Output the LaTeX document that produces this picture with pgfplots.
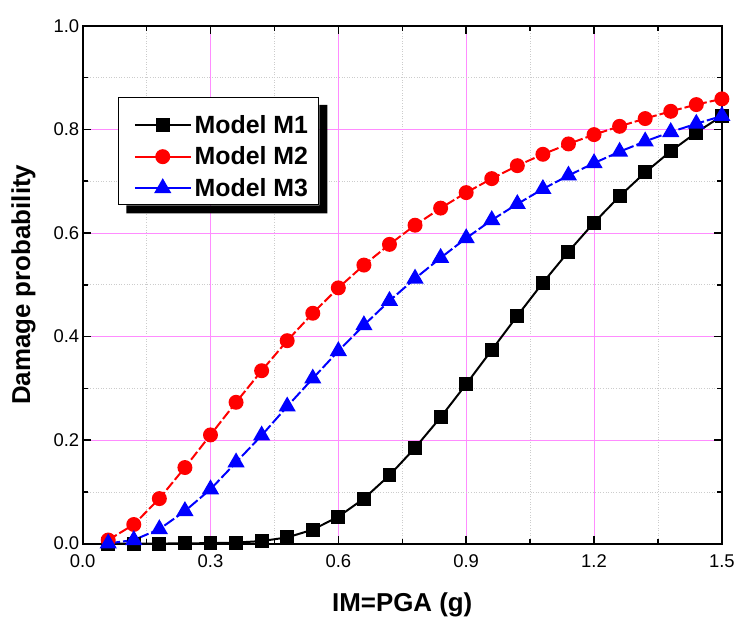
\documentclass[border=0pt]{standalone}
\usepackage{pgfplots}
\pgfplotsset{compat=1.18}
\usepackage{fontspec}
\setmainfont{Liberation Sans}
\definecolor{gridpink}{RGB}{255,140,255}
\begin{document}
\begin{tikzpicture}
\begin{axis}[
  at={(0pt,0pt)}, anchor=south west,
  width=642pt, height=520pt, scale only axis,
  xmin=0, xmax=1.5, ymin=0, ymax=1.0,
  xtick={0,0.3,0.6,0.9,1.2,1.5},
  ytick={0,0.2,0.4,0.6,0.8,1.0},
  minor x tick num=1, minor y tick num=1,
  xticklabel style={yshift=-8pt, /pgf/number format/.cd,fixed,fixed zerofill,precision=1},
  yticklabel style={/pgf/number format/.cd,fixed,fixed zerofill,precision=1},
  /pgf/number format/assume math mode=true,
  ticklabel style={font=\fontsize{18.5}{22}\selectfont},
  tick align=inside,
  major tick length=8pt, minor tick length=5pt,
  tick style={black, line width=1.5pt},
  axis line style={line width=2pt},
  grid=both,
  major grid style={gridpink, line width=0.8pt, solid},
  minor grid style={gray!40, line width=0.6pt, dotted},
  xlabel={\bfseries IM=PGA (g)},
  ylabel={\bfseries Damage probability},
  label style={font=\fontsize{26}{30}\selectfont\bfseries},
  xlabel style={yshift=-18pt},
  ylabel style={yshift=11pt},
  legend style={name=leg, at={(0.056,0.863)}, anchor=north west,
    draw=black, line width=1pt, fill=white,
    font=\fontsize{25}{28}\selectfont\bfseries,
    inner xsep=8pt, inner ysep=5pt, row sep=8pt,
    nodes={inner xsep=3pt, inner ysep=2pt}},
  legend cell align=left,
  legend image code/.code={
    \path (-7pt,0pt);
    \draw[#1, solid, mark repeat=2, mark phase=2] plot coordinates {(0pt,0pt) (28pt,0pt) (56pt,0pt)};
  },
]
\addplot[black, line width=2pt, mark=square*, mark size=6pt, mark options={solid},
  legend image code/.code={
    \path (-7pt,0pt) (0pt,22pt);
    \draw[##1, solid, mark repeat=2, mark phase=2] plot coordinates {(0pt,0pt) (28pt,0pt) (56pt,0pt)};
  }] coordinates {
(0.06,0.0) (0.12,0.0) (0.18,0.0002) (0.24,0.0005) (0.30,0.001) (0.36,0.002)
(0.42,0.005) (0.48,0.012) (0.54,0.027) (0.60,0.052) (0.66,0.087) (0.72,0.132)
(0.78,0.185) (0.84,0.244) (0.90,0.308) (0.96,0.374) (1.02,0.440) (1.08,0.504)
(1.14,0.564) (1.20,0.620) (1.26,0.671) (1.32,0.717) (1.38,0.758) (1.44,0.794)
(1.50,0.826)};
\addlegendentry{Model M1}
\addplot[red, line width=2pt, dash pattern=on 10pt off 3pt, mark=*, mark size=6.5pt, mark options={solid}] coordinates {
(0.06,0.007) (0.12,0.037) (0.18,0.087) (0.24,0.147) (0.30,0.210) (0.36,0.273)
(0.42,0.334) (0.48,0.392) (0.54,0.445) (0.60,0.494) (0.66,0.538) (0.72,0.578)
(0.78,0.615) (0.84,0.648) (0.90,0.678) (0.96,0.705) (1.02,0.730) (1.08,0.752)
(1.14,0.772) (1.20,0.790) (1.26,0.806) (1.32,0.821) (1.38,0.835) (1.44,0.848)
(1.50,0.859)};
\addlegendentry{Model M2}
\addplot[blue, line width=2pt, dash pattern=on 12pt off 3pt, mark=triangle*, mark size=8pt, mark options={solid}] coordinates {
(0.06,0.0005) (0.12,0.007) (0.18,0.028) (0.24,0.063) (0.30,0.105) (0.36,0.157)
(0.42,0.209) (0.48,0.265) (0.54,0.319) (0.60,0.372) (0.66,0.422) (0.72,0.469)
(0.78,0.512) (0.84,0.552) (0.90,0.590) (0.96,0.625) (1.02,0.656) (1.08,0.685)
(1.14,0.711) (1.20,0.735) (1.26,0.757) (1.32,0.777) (1.38,0.795) (1.44,0.811)
(1.50,0.826)};
\addlegendentry{Model M3}
\end{axis}
\fill[black] ([yshift=-8pt]leg.north east) -- ([xshift=8pt,yshift=-8pt]leg.north east)
  -- ([xshift=8pt,yshift=-8pt]leg.south east) -- ([xshift=8pt,yshift=-8pt]leg.south west)
  -- ([xshift=8pt]leg.south west) -- (leg.south east) -- cycle;
\useasboundingbox (-83pt,-72pt) rectangle (655pt,546pt);
\end{tikzpicture}
\end{document}
